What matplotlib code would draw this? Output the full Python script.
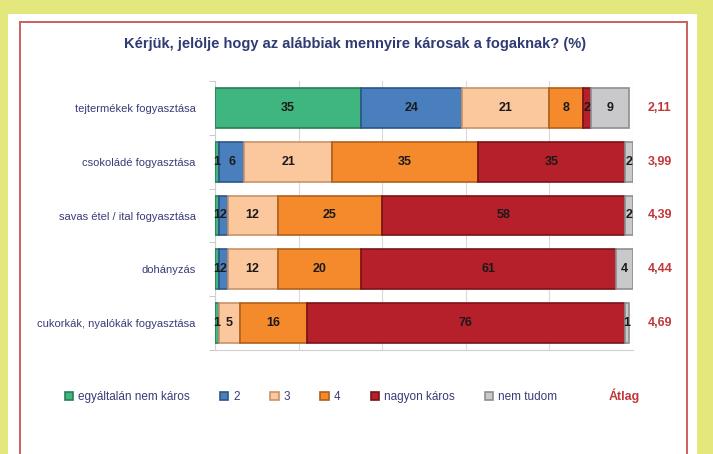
import matplotlib.pyplot as plt
from matplotlib.patches import Rectangle

plt.rcParams['font.family'] = ['Liberation Sans Narrow', 'Liberation Sans', 'DejaVu Sans']

# Data
categories = ['tejtermékek fogyasztása', 'csokoládé fogyasztása', 'savas étel / ital fogyasztása',
              'dohányzás', 'cukorkák, nyalókák fogyasztása']
series_names = ['egyáltalán nem káros', '2', '3', '4', 'nagyon káros', 'nem tudom']
not_harmful = [35, 1, 1, 1, 1]
level2 = [24, 6, 2, 2, 0]
level3 = [21, 21, 12, 12, 5]
level4 = [8, 35, 25, 20, 16]
very_harmful = [2, 35, 58, 61, 76]
dont_know = [9, 2, 2, 4, 1]
averages = ['2,11', '3,99', '4,39', '4,44', '4,69']

series = [not_harmful, level2, level3, level4, very_harmful, dont_know]
colors = ['#3fb67f', '#4a7fbd', '#fbc79c', '#f58a2c', '#b5202a', '#c9c9cb']
edges = ['#2a7d55', '#2c5687', '#c9936a', '#b0601a', '#7a1218', '#8f8f92']

fig = plt.figure(figsize=(7.13, 4.54), dpi=100)
fig.patch.set_facecolor('#e4e87c')

# white panel and red frame
fig.patches.append(Rectangle((8 / 713, 0), 689 / 713, 1 - 14 / 454, transform=fig.transFigure,
                             facecolor='white', edgecolor='none', zorder=-3))
fig.patches.append(Rectangle((20 / 713, -0.05), 667 / 713, 1.05 - 22 / 454, transform=fig.transFigure,
                             facecolor='none', edgecolor='#c8605c', linewidth=1.4, zorder=-2))

ax = fig.add_axes([215 / 713, 1 - 350 / 454, 418 / 713, 269 / 454])
ax.set_facecolor('none')

ypos = list(range(len(categories)))
left = [0] * len(categories)
for vals, name, c, ec in zip(series, series_names, colors, edges):
    bars = ax.barh(ypos, vals, left=left, height=0.74, color=c, edgecolor=ec,
                   linewidth=1.2, label=name, zorder=3)
    for b, v in zip(bars, vals):
        if v > 0:
            ax.text(b.get_x() + b.get_width() / 2, b.get_y() + b.get_height() / 2, str(v),
                    ha='center', va='center', fontsize=9, fontweight='bold', color='#1a1a1a', zorder=4)
    left = [l + v for l, v in zip(left, vals)]

for y, a in zip(ypos, averages):
    ax.text(103.5, y, a, ha='left', va='center', fontsize=9, fontweight='bold', color='#c0383a')

ax.set_xlim(0, 100)
ax.set_ylim(len(categories) - 0.5, -0.5)
ax.set_xticks([0, 20, 40, 60, 80, 100])
ax.set_xticklabels([])
ax.tick_params(axis='x', length=0)
ax.grid(axis='x', color='#d9d9d9', linewidth=0.8, zorder=0)
ax.set_yticks(ypos)
ax.set_yticklabels(categories, fontsize=8, color='#3b3b78')
ax.set_yticks([y + 0.5 for y in [-1] + ypos], minor=True)
ax.tick_params(axis='y', which='major', length=0, pad=14)
ax.tick_params(axis='y', which='minor', length=4, color='#bfbfbf')
for s in ['top', 'right']:
    ax.spines[s].set_visible(False)
for s in ['left', 'bottom']:
    ax.spines[s].set_color('#d0d0d0')

fig.text(355 / 713, 1 - 44 / 454, 'Kérjük, jelölje hogy az alábbiak mennyire károsak a fogaknak? (%)',
         ha='center', va='center', fontsize=10.5, fontweight='bold', color='#2f3b72')

leg = fig.legend(loc='center left', bbox_to_anchor=(54 / 713, 1 - 397 / 454), ncol=6, frameon=False,
                 fontsize=8.5, handlelength=0.7, handleheight=0.7, handletextpad=0.4, columnspacing=2.6)
for t in leg.get_texts():
    t.set_color('#3b3b78')
fig.text(609 / 713, 1 - 396 / 454, 'Átlag', ha='left', va='center', fontsize=9, fontweight='bold',
         color='#c0383a')

fig.savefig('out.png', dpi=100, facecolor=fig.get_facecolor())
